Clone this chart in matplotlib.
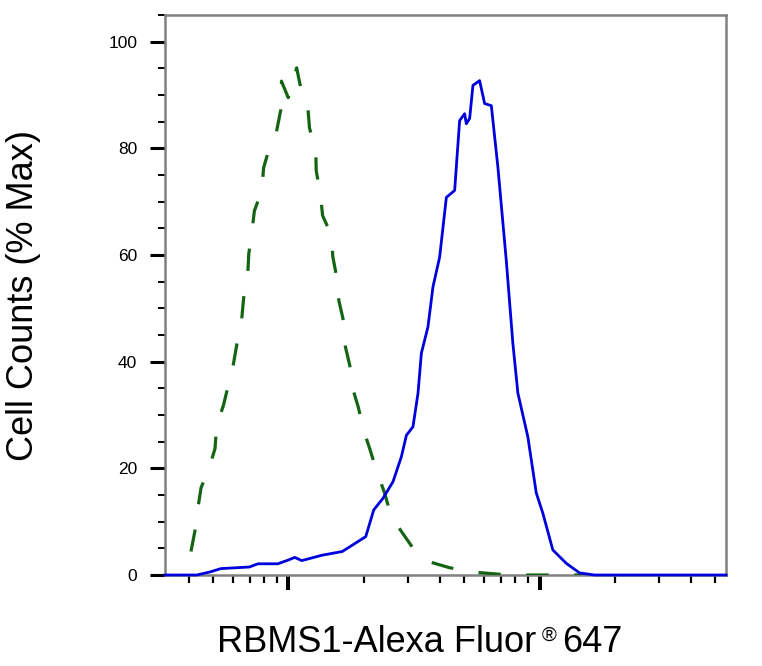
import matplotlib
matplotlib.use("Agg")
import matplotlib.pyplot as plt
from matplotlib.ticker import LogLocator, NullFormatter, MultipleLocator

plt.rcParams['font.family'] = ['Liberation Sans', 'DejaVu Sans']

# isotype control (green dashed)
ctrl_x = [409, 424, 436, 449, 482, 510, 518, 551, 579, 604, 627, 651, 663, 688,
          695, 715, 732, 784, 796, 842, 896, 933, 938, 998, 1030, 1078, 1112, 1194,
          1213, 1285, 1290, 1339, 1368, 1483, 1502, 1563, 1587, 1661, 1676, 1755,
          1797, 1899, 1990, 2117, 2247, 2411, 2548, 2786, 3117, 3627, 4356, 5268,
          6285, 7600, 9377, 11270, 15810]
ctrl_y = [4.4, 8.2, 12.6, 16.4, 19.9, 23.7, 28.1, 31.8, 36.0, 39.6, 44.0, 47.8, 51.9, 56.0,
          60.2, 64.3, 68.3, 72.1, 76.3, 80.3, 83.1, 87.3, 92.6, 89.5, 91.3, 95.1, 92.0, 87.9,
          83.8, 79.6, 75.8, 71.6, 67.4, 63.7, 59.7, 55.4, 51.5, 47.4, 43.3, 39.3,
          35.2, 31.4, 27.2, 23.4, 19.4, 15.5, 11.5, 8.5, 5.2, 2.5, 1.4, 0.6,
          0.3, 0, 0, 0, 0]

# RBMS1 stained (blue solid)
rbms_x = [322, 432, 490, 538, 699, 756, 907, 998, 1060, 1130, 1358, 1637, 1797, 2032,
          2186, 2381, 2609, 2818, 2950, 3133, 3281, 3384, 3594, 3763, 4001, 4255, 4591,
          4806, 5031, 5110, 5268, 5430, 5772, 6043, 6427, 6825, 7371, 7832, 8199, 8984,
          9703, 10307, 11295, 12771, 14420, 16550, 55300]
rbms_y = [0, 0, 0.6, 1.2, 1.5, 2.1, 2.1, 2.8, 3.3, 2.7, 3.7, 4.4, 5.6, 7.2,
          12.2, 14.4, 17.5, 22.2, 26.2, 27.8, 34.1, 41.6, 46.5, 54.0, 59.6, 70.8, 72.1,
          85.2, 86.5, 84.6, 85.6, 91.8, 92.7, 88.4, 88.0, 76.5, 59.0, 43.4, 34.1, 25.9,
          15.4, 11.6, 4.7, 2.2, 0.4, 0, 0]

fig = plt.figure(figsize=(7.62, 6.66), dpi=100)
ax = fig.add_axes([165 / 762, 1 - 575 / 666, (726 - 165) / 762, (575 - 15) / 666])

ax.plot(ctrl_x, ctrl_y, color='#146414', lw=2.3, linestyle=(0, (7, 8)), zorder=3)
ax.plot(rbms_x, rbms_y, color='#0000dd', lw=2.0, zorder=4, clip_on=False)

ax.set_xscale('log')
ax.set_xlim(10 ** 2.5084, 10 ** 4.7426)
ax.set_ylim(0, 105)

ax.xaxis.set_major_locator(LogLocator(base=10))
ax.xaxis.set_minor_locator(LogLocator(base=10, subs=range(2, 10)))
ax.xaxis.set_major_formatter(NullFormatter())
ax.xaxis.set_minor_formatter(NullFormatter())
ax.yaxis.set_major_locator(MultipleLocator(20))
ax.yaxis.set_minor_locator(MultipleLocator(5))

ax.tick_params(axis='x', which='major', length=11, width=2.9, color='black')
ax.tick_params(axis='x', which='minor', length=6, width=1.6, color='black')
ax.tick_params(axis='y', which='major', length=11, width=2.2, color='black',
               labelsize=12.5, pad=9)
ax.tick_params(axis='y', which='minor', length=5, width=1.4, color='black')

for s in ax.spines.values():
    s.set_color('#808080')
    s.set_linewidth(1.8)

# y label
fig.text(0.031, 0.557, "Cell Counts (% Max)", rotation=90, fontsize=26,
         ha='center', va='center')

# x label with small raised registered sign
base_y = 1 - 651.7 / 666
t1 = fig.text(216.7 / 762, base_y, "RBMS1-Alexa Fluor", fontsize=26, ha='left', va='baseline')
fig.canvas.draw()
bb = t1.get_window_extent()
x2 = (bb.x1 + 6) / 762
t2 = fig.text(x2, base_y + 10.5 / 666, "®", fontsize=14.5, ha='left', va='baseline')
fig.canvas.draw()
bb2 = t2.get_window_extent()
fig.text((bb2.x1 + 5) / 762, base_y, "647", fontsize=26, ha='left', va='baseline')

fig.savefig("out.png", dpi=100)
